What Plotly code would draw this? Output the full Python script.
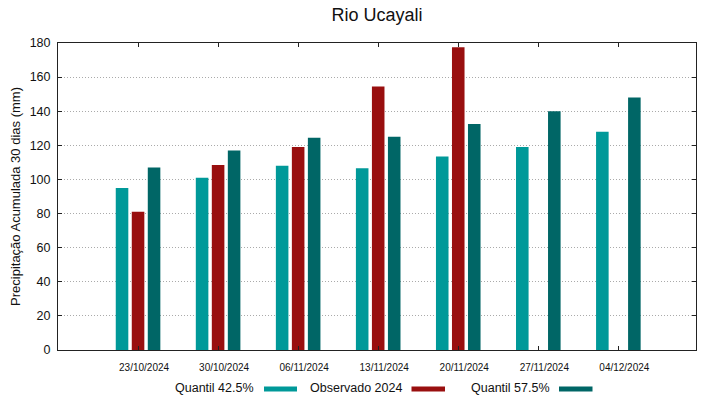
import plotly.graph_objects as go

dates = ["23/10/2024", "30/10/2024", "06/11/2024", "13/11/2024",
         "20/11/2024", "27/11/2024", "04/12/2024"]
q425 = [95, 101, 108, 106.5, 113.5, 119, 128]
obs2024 = [81, 108.5, 119, 154.5, 177.5, None, None]
q575 = [107, 117, 124.5, 125, 132.5, 140, 148]
y_ticks = [0, 20, 40, 60, 80, 100, 120, 140, 160, 180]

names = ["Quantil 42.5%", "Observado 2024", "Quantil 57.5%"]
colors = ["#009999", "#990F0F", "#006666"]
series = [q425, obs2024, q575]

FONT = "Liberation Sans, Arial, sans-serif"
W, H = 719, 399
L, R, T, B = 58, 696, 43, 350

fig = go.Figure()
for name, vals, col in zip(names, series, colors):
    fig.add_trace(go.Bar(x=dates, y=vals, name=name,
                         marker=dict(color=col, line=dict(width=0))))

fig.update_layout(
    width=W, height=H,
    margin=dict(l=L, r=W - R, t=T, b=H - B, pad=0, autoexpand=False),
    paper_bgcolor="white", plot_bgcolor="white",
    barmode="group", bargap=0.4, bargroupgap=0.215,
    showlegend=False,
    font=dict(family=FONT, color="#111111"),
    title=dict(text="Rio Ucayali", x=0.5, xref="paper", xanchor="center",
               y=1 - 15 / H, yref="container", yanchor="middle",
               font=dict(size=18, family=FONT, color="#111111")),
)
fig.update_xaxes(
    type="category", range=[-1, 6.97], automargin=False,
    showline=True, linecolor="#222222", linewidth=1, mirror="ticks",
    ticks="inside", ticklen=4, tickcolor="#222222",
    showgrid=False, zeroline=False,
    tickfont=dict(size=10, family=FONT, color="#111111"),
    ticklabelshift=6, ticklabelstandoff=8,
)
fig.update_yaxes(
    range=[0, 180], tickvals=y_ticks, automargin=False,
    showline=True, linecolor="#222222", linewidth=1, mirror="ticks",
    ticks="inside", ticklen=4, tickcolor="#222222",
    showgrid=True, gridcolor="#aaaaaa", griddash="1px,2px", gridwidth=1,
    zeroline=False,
    tickfont=dict(size=12.5, family=FONT, color="#111111"),
    ticklabelstandoff=4,
    title=dict(text="Precipitação Acumulada 30 dias (mm)", standoff=6,
               font=dict(size=13, family=FONT, color="#111111")),
)

# legend in gnuplot style: label then colour sample
def px(x):
    return (x - L) / (R - L)

def py(y):
    return (B - y) / (B - T)

legend_items = [(256, 264, 297), (404, 411.5, 445), (551.5, 559, 592.5)]
for (text_right, sw0, sw1), name, col in zip(legend_items, names, colors):
    fig.add_annotation(text=name, xref="paper", yref="paper",
                       x=px(text_right), y=py(387.5), xanchor="right",
                       yanchor="middle", showarrow=False,
                       font=dict(size=12.5, family=FONT, color="#111111"))
    fig.add_shape(type="rect", xref="paper", yref="paper",
                  x0=px(sw0), x1=px(sw1), y0=py(386.5), y1=py(391.5),
                  fillcolor=col, line=dict(width=0))

fig.write_html("out.html", config={"displayModeBar": False},
               post_script="document.body.style.margin='0';"
                           "document.body.style.overflow='hidden';")
